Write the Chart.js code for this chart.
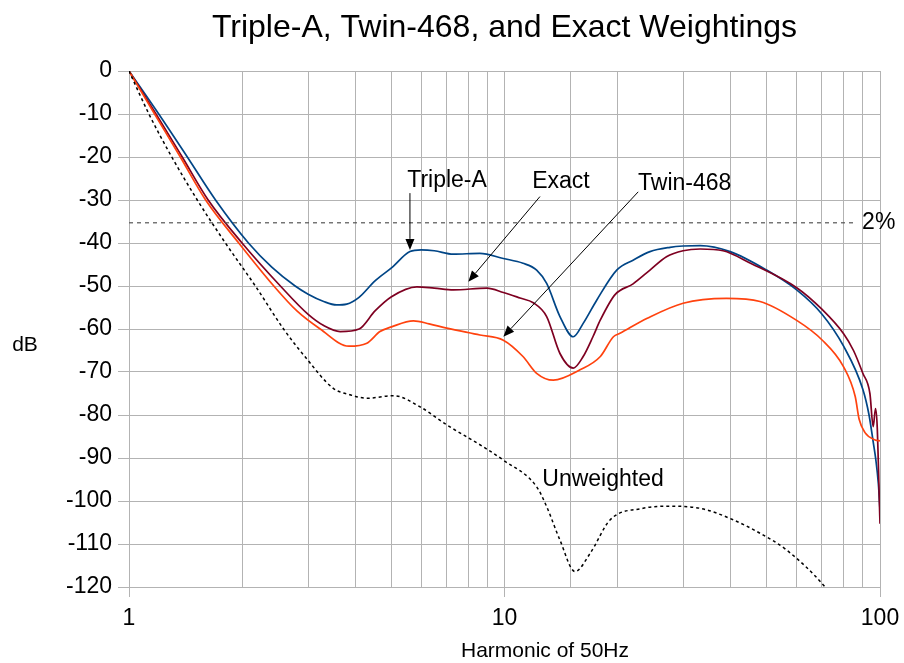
<!DOCTYPE html>
<html>
<head>
<meta charset="utf-8">
<script src="https://cdn.jsdelivr.net/npm/chart.js@4/dist/chart.umd.min.js"></script>
<style>
  html, body { margin: 0; padding: 0; background: #ffffff; }
  #wrap { width: 904px; height: 663px; position: relative; }
</style>
</head>
<body>
<div id="wrap"><canvas id="c" width="904" height="663"></canvas></div>
<script>
// ---- Data ----
const tripleA_h = [1, 1.2, 1.43, 1.7, 2.08, 2.4, 2.77, 3.0, 3.3, 3.57, 3.8, 4.09, 4.52, 5.0, 5.6, 6.0, 6.5, 7.3, 8.6, 9.93, 11.2, 12.18, 12.95, 14.05, 15.25, 16.2, 17.6, 19.9, 22.0, 24.4, 27.6, 29.9, 33.2, 39.9, 49.9, 60, 70, 80, 90, 93.5, 96, 97.5, 99, 100];
const tripleA_db = [0, -10, -20, -30, -40, -45.6, -50, -51.9, -53.6, -54.4, -54.2, -52.7, -48.8, -45.8, -42.0, -41.6, -41.8, -42.6, -42.4, -43.6, -44.7, -46.3, -49.4, -57.1, -61.8, -58.7, -53.3, -46.3, -44.0, -42.0, -41.0, -40.7, -40.6, -42.0, -46.3, -50.9, -56.5, -64.0, -74.0, -80, -86.5, -90.5, -96, -102];

const exact_h = [1, 1.18, 1.386, 1.625, 2.0, 2.53, 3.0, 3.3, 3.65, 4.1, 4.52, 5.0, 5.84, 6.5, 7.31, 8.97, 9.93, 11.0, 11.93, 12.95, 14.05, 15.25, 16.2, 17.2, 18.0, 19.7, 22.0, 24.4, 27.0, 29.9, 33.2, 38.2, 45.2, 60, 70, 80, 85, 90, 94, 95.9, 97.3, 98.3, 99.6, 100];
const exact_db = [0, -10, -20, -30, -40, -50, -56.6, -59.2, -60.6, -60.0, -55.8, -52.5, -50.2, -50.5, -50.9, -50.5, -51.5, -52.8, -53.9, -57.1, -65.7, -69.1, -66.4, -61.8, -57.9, -52.0, -49.5, -46.3, -43.2, -41.8, -41.4, -41.8, -44.7, -50.4, -55.4, -61.1, -65.0, -70.3, -75.0, -82.7, -78.5, -82.7, -100, -105.3];

const twin_h = [1, 1.17, 1.37, 1.6, 1.96, 2.43, 2.8, 3.23, 3.85, 4.3, 4.66, 5.0, 5.72, 6.3, 7.02, 8.6, 9.93, 11.2, 12.18, 13.49, 15.89, 18.0, 19.5, 20.3, 24.0, 29.9, 39.0, 47.9, 60, 70, 80, 85.9, 88.0, 91.2, 97, 100];
const twin_db = [0, -10, -20, -30, -40, -50, -55.8, -60, -64.0, -63.3, -60.6, -59.5, -58.1, -58.8, -59.8, -61.4, -62.6, -66.4, -70.3, -71.9, -69.5, -66.4, -61.8, -61.0, -57.5, -54.0, -52.9, -53.6, -58.0, -62.5, -68.8, -75.7, -81.0, -84.1, -85.8, -86.0];

const unweighted_h = [1, 1.13, 1.3, 1.52, 1.806, 2.17, 2.58, 2.94, 3.5, 3.88, 4.3, 5.06, 5.96, 7.02, 8.78, 9.93, 12.18, 12.95, 14.05, 15.41, 16.9, 19.1, 23.4, 27.0, 33.2, 40.7, 47.9, 56.4, 71.4, 80];
const unweighted_db = [0, -10, -20, -30, -40, -50, -60, -66.4, -73.8, -75.3, -76.1, -75.5, -78.1, -82.3, -87.4, -90.5, -96.7, -101.3, -109.1, -116.4, -112.2, -104.4, -101.7, -101.2, -101.7, -104.4, -107.5, -111.4, -120, -126];

const limit_h = [1, 84.8];
const limit_db = [-35.3, -35.3];

const yTicks = [0, -10, -20, -30, -40, -50, -60, -70, -80, -90, -100, -110, -120];
const xMajorTicks = [1, 10, 100];

// annotation labels (data coordinates)
const labels = [
  { text: 'Triple-A',   h: 7.03, db: -25.6, align: 'center' },
  { text: 'Exact',      h: 14.14, db: -25.8, align: 'center' },
  { text: 'Twin-468',   h: 30.2, db: -26.1, align: 'center' },
  { text: 'Unweighted', h: 18.3, db: -95.1, align: 'center' },
  { text: '2%',         h: 89.6, db: -35.3, align: 'left' }
];
const arrows = [
  { h1: 5.6,   db1: -28.4, h2: 5.6,  db2: -41.6 },
  { h1: 12.43, db1: -29.2, h2: 8.01, db2: -49.0 },
  { h1: 22.7,  db1: -28.1, h2: 9.93, db2: -61.8 }
];

const FONT = '"Liberation Sans", Arial, Helvetica, sans-serif';
const GRID = '#b3b3b3';

function pts(hs, ds) { return hs.map((h, i) => ({ x: h, y: ds[i] })); }

const annotPlugin = {
  id: 'annot',
  afterDatasetsDraw(chart) {
    const ctx = chart.ctx;
    const xs = chart.scales.x, ys = chart.scales.y;
    const ca = chart.chartArea;
    ctx.save();
    ctx.strokeStyle = '#000';
    ctx.fillStyle = '#000';
    ctx.lineWidth = 1;
    arrows.forEach(a => {
      const x1 = xs.getPixelForValue(a.h1), y1 = ys.getPixelForValue(a.db1);
      const x2 = xs.getPixelForValue(a.h2), y2 = ys.getPixelForValue(a.db2);
      const ang = Math.atan2(y2 - y1, x2 - x1);
      const L = 11, W = 4.5;
      const bx = x2 - L * Math.cos(ang), by = y2 - L * Math.sin(ang);
      ctx.beginPath();
      ctx.moveTo(x1, y1);
      ctx.lineTo(bx, by);
      ctx.stroke();
      ctx.beginPath();
      ctx.moveTo(x2, y2);
      ctx.lineTo(bx + W * Math.sin(ang), by - W * Math.cos(ang));
      ctx.lineTo(bx - W * Math.sin(ang), by + W * Math.cos(ang));
      ctx.closePath();
      ctx.fill();
    });
    ctx.font = '23px ' + FONT;
    ctx.textBaseline = 'middle';
    labels.forEach(l => {
      ctx.textAlign = l.align;
      ctx.fillText(l.text, xs.getPixelForValue(l.h), ys.getPixelForValue(l.db));
    });
    ctx.font = '21px ' + FONT;
    ctx.textAlign = 'center';
    ctx.fillText('dB', ca.left - 104, (ca.top + ca.bottom) / 2 + 16);
    ctx.fillText('Harmonic of 50Hz', ca.left + 416, ca.bottom + 64);
    ctx.restore();
  }
};

const chart = new Chart(document.getElementById('c'), {
  type: 'line',
  data: {
    datasets: [
      { label: '2%', data: pts(limit_h, limit_db), borderColor: '#555555', borderWidth: 1.2, borderDash: [4, 4], pointRadius: 0, tension: 0 },
      { label: 'Unweighted', data: pts(unweighted_h, unweighted_db), borderColor: '#000000', borderWidth: 1.5, borderDash: [3, 3], pointRadius: 0, cubicInterpolationMode: 'monotone' },
      { label: 'Twin-468', data: pts(twin_h, twin_db), borderColor: '#ff420e', borderWidth: 1.7, pointRadius: 0, cubicInterpolationMode: 'monotone' },
      { label: 'Exact', data: pts(exact_h, exact_db), borderColor: '#7e0021', borderWidth: 1.7, pointRadius: 0, cubicInterpolationMode: 'monotone' },
      { label: 'Triple-A', data: pts(tripleA_h, tripleA_db), borderColor: '#004586', borderWidth: 1.7, pointRadius: 0, cubicInterpolationMode: 'monotone' }
    ]
  },
  options: {
    responsive: false,
    animation: false,
    devicePixelRatio: 1,
    layout: { padding: { left: 0, right: 0, top: 0, bottom: 0 } },
    plugins: {
      legend: { display: false },
      tooltip: { enabled: false },
      title: {
        display: true,
        text: 'Triple-A, Twin-468, and Exact Weightings',
        color: '#000',
        fullSize: false,
        font: { family: FONT, size: 32, weight: 'normal', lineHeight: '38px' },
        padding: { top: 9, bottom: 24 }
      }
    },
    scales: {
      x: {
        type: 'logarithmic',
        min: 1, max: 100,
        afterFit(s) { s.height = 76; s.paddingRight = 24; s.paddingLeft = 0; },
        border: { color: GRID, width: 1 },
        grid: {
          color: GRID, lineWidth: 1, tickLength: 10,
          tickColor: (c) => (c.tick && xMajorTicks.includes(c.tick.value)) ? GRID : 'rgba(0,0,0,0)'
        },
        ticks: {
          autoSkip: false, maxRotation: 0, minRotation: 0,
          color: '#000', padding: 8,
          font: { family: FONT, size: 23 },
          callback: (v) => xMajorTicks.includes(v) ? String(v) : ''
        }
      },
      y: {
        type: 'linear',
        min: -120, max: 0,
        afterFit(s) { s.width = 129; s.paddingTop = 0; s.paddingBottom = 0; },
        afterBuildTicks(s) { s.ticks = yTicks.map(v => ({ value: v })); },
        border: { color: GRID, width: 1 },
        grid: { color: GRID, lineWidth: 1, tickLength: 11, tickColor: GRID },
        ticks: {
          color: '#000', padding: 6,
          font: { family: FONT, size: 23 }
        }
      }
    }
  },
  plugins: [annotPlugin]
});
</script>
</body>
</html>
